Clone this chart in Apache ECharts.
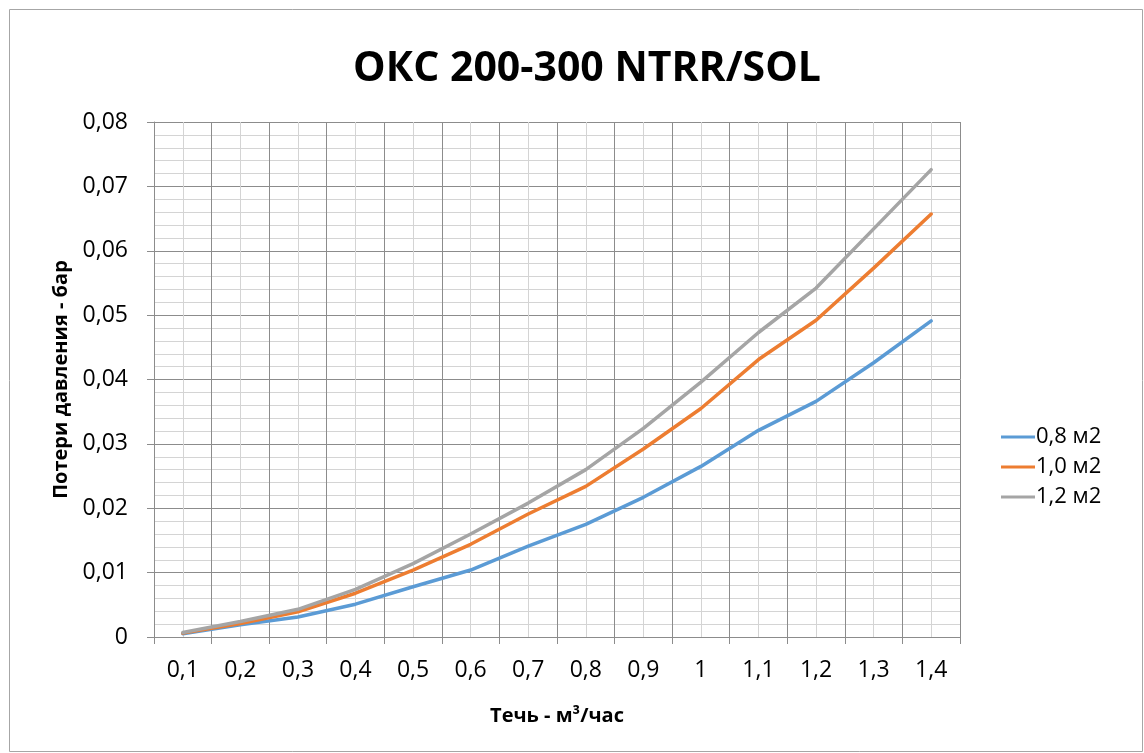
<!DOCTYPE html>
<html>
<head>
<meta charset="utf-8">
<script src="https://cdn.jsdelivr.net/npm/echarts@6/dist/echarts.min.js"></script>
<style>
html,body{margin:0;padding:0;background:#fff;}
#chart{width:1144px;height:753px;}
</style>
</head>
<body>
<div id="chart"></div>
<script>
const categories = ['0,1','0,2','0,3','0,4','0,5','0,6','0,7','0,8','0,9','1','1,1','1,2','1,3','1,4'];
const seriesNames = ['0,8 м2','1,0 м2','1,2 м2'];
const s08 = [0.0005,0.0019,0.0031,0.0051,0.0078,0.0104,0.0141,0.0175,0.0217,0.0265,0.0321,0.0366,0.0426,0.0491];
const s10 = [0.0006,0.0021,0.0039,0.0068,0.0104,0.0144,0.0191,0.0234,0.0292,0.0355,0.0431,0.0492,0.0573,0.0657];
const s12 = [0.0007,0.0024,0.0043,0.0074,0.0114,0.0160,0.0208,0.0260,0.0324,0.0396,0.0473,0.0542,0.0634,0.0726];
const yTicks = [0,0.01,0.02,0.03,0.04,0.05,0.06,0.07,0.08];
const titleText = 'ОКС 200-300 NTRR/SOL';
const xTitle = 'Течь - м³/час';
const yTitle = 'Потери давления - бар';

const colors = ['#5B9BD5','#ED7D31','#A5A5A5'];
const major = '#8c8c8c';
const minor = '#d4d4d4';
const FONT = '"Open Sans", "Noto Sans", sans-serif';

const chart = echarts.init(document.getElementById('chart'), null, {renderer:'canvas'});
chart.setOption({
  animation: false,
  backgroundColor: '#fff',
  textStyle: {fontFamily: FONT},
  graphic: [{
    type: 'rect', silent: true, z: -10,
    shape: {x: 9.5, y: 9.5, width: 1133, height: 742},
    style: {fill: 'none', stroke: '#a6a6a6', lineWidth: 1}
  }],
  title: {
    text: titleText, left: 582, top: 44, textAlign: 'center',
    textStyle: {fontFamily: FONT, fontSize: 41, fontWeight: 'bold', color: '#000'}
  },
  legend: {
    orient: 'vertical', left: 996, top: 421,
    itemWidth: 34, itemHeight: 3, itemGap: 8,
    icon: 'rect',
    textStyle: {fontFamily: FONT, fontSize: 22, color: '#000', padding: [0,0,0,-4]},
    data: seriesNames
  },
  grid: {left: 154, top: 122, right: 184, bottom: 116},
  xAxis: [{
    type: 'category', data: categories, boundaryGap: true,
    name: xTitle, nameLocation: 'middle', nameGap: 69,
    nameTextStyle: {fontFamily: FONT, fontSize: 20, fontWeight: 'bold', color: '#000'},
    axisLine: {show: true, lineStyle: {color: major, width: 1}},
    axisTick: {show: true, length: 7, interval: 0, lineStyle: {color: major}},
    axisLabel: {interval: 0, fontSize: 23, color: '#000', margin: 22, fontFamily: FONT},
    splitLine: {show: false}
  }, {
    type: 'value', min: 0, max: 14, interval: 1, position: 'bottom',
    axisLine: {show: false}, axisTick: {show: false}, axisLabel: {show: false},
    splitLine: {show: true, lineStyle: {color: major, width: 1}},
    minorTick: {show: false, splitNumber: 2},
    minorSplitLine: {show: true, lineStyle: {color: minor, width: 1}}
  }],
  yAxis: {
    type: 'value', min: 0, max: 0.08, interval: 0.01,
    name: yTitle, nameLocation: 'middle', nameGap: 83, nameRotate: 90,
    nameTextStyle: {fontFamily: FONT, fontSize: 20, fontWeight: 'bold', color: '#000'},
    axisLine: {show: true, lineStyle: {color: major, width: 1}},
    axisTick: {show: true, length: 7, lineStyle: {color: major}},
    axisLabel: {
      fontSize: 23, color: '#000', margin: 26, fontFamily: FONT,
      formatter: v => yTicks.indexOf(v) === 0 ? '0' : v.toFixed(2).replace('.', ',')
    },
    splitLine: {show: true, lineStyle: {color: major, width: 1}},
    minorTick: {show: false, splitNumber: 5},
    minorSplitLine: {show: true, lineStyle: {color: minor, width: 1}}
  },
  series: [s08, s10, s12].map((d, i) => ({
    name: seriesNames[i], type: 'line', data: d, xAxisIndex: 0,
    symbol: 'none', smooth: false,
    lineStyle: {color: colors[i], width: 3.5, cap: 'round'},
    itemStyle: {color: colors[i]}
  }))
});
</script>
</body>
</html>
